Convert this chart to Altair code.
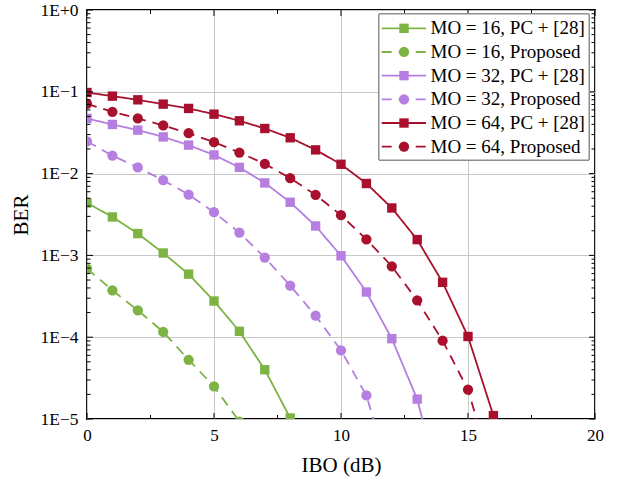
import altair as alt
import pandas as pd

# ---------------- data ----------------
series_names = ["MO = 16, PC + [28]", "MO = 16, Proposed",
                "MO = 32, PC + [28]", "MO = 32, Proposed",
                "MO = 64, PC + [28]", "MO = 64, Proposed"]
series_types = ["PC", "Proposed", "PC", "Proposed", "PC", "Proposed"]
series_colors = ["#7cb342", "#7cb342", "#b57ee0", "#b57ee0", "#a8102e", "#a8102e"]

pc16_x = [0, 1, 2, 3, 4, 5, 6, 7, 8]
pc16_y = [4.38e-3, 2.95e-3, 1.85e-3, 1.07e-3, 5.9e-4, 2.77e-4, 1.18e-4, 4.0e-5, 1.03e-5]

pr16_x = [0, 1, 2, 3, 4, 5, 6]
pr16_y = [6.9e-4, 3.74e-4, 2.13e-4, 1.16e-4, 5.3e-5, 2.5e-5, 9.3e-6]

pc32_x = [0, 1, 2, 3, 4, 5, 6, 7, 8, 9, 10, 11, 12, 13, 14]
pc32_y = [0.0472, 0.0399, 0.034, 0.0281, 0.0223, 0.0169, 0.0119, 0.00769, 0.00447,
          0.00229, 9.9e-4, 3.57e-4, 9.6e-5, 1.75e-5, 1.1e-6]

pr32_x = [0, 1, 2, 3, 4, 5, 6, 7, 8, 9, 10, 11, 12]
pr32_y = [0.0247, 0.0166, 0.0119, 0.0083, 0.00555, 0.00337, 0.0019, 9.4e-4, 4.27e-4,
          1.83e-4, 6.9e-5, 1.94e-5, 1.7e-6]

pc64_x = [0, 1, 2, 3, 4, 5, 6, 7, 8, 9, 10, 11, 12, 13, 14, 15, 16]
pc64_y = [0.098, 0.0885, 0.0798, 0.0707, 0.0626, 0.0533, 0.0442, 0.0356, 0.0274,
          0.0195, 0.0130, 0.00757, 0.0038, 0.00156, 4.69e-4, 1.02e-4, 1.1e-5]

pr64_x = [0, 1, 2, 3, 4, 5, 6, 7, 8, 9, 10, 11, 12, 13, 14, 15, 16]
pr64_y = [0.0713, 0.0569, 0.0472, 0.0388, 0.0312, 0.0242, 0.0181, 0.01315, 0.00879,
          0.0055, 0.0031, 0.00157, 7.36e-4, 2.82e-4, 9.06e-5, 2.28e-5, 2.0e-6]

x_major = [0, 5, 10, 15, 20]
x_minor = [2.5, 7.5, 12.5, 17.5]
y_major = [1e-5, 1e-4, 1e-3, 1e-2, 1e-1, 1]
y_minor = [k * 10.0 ** d for d in range(-5, 0) for k in range(2, 10)]

# ---------------- build table ----------------
all_x = [pc16_x, pr16_x, pc32_x, pr32_x, pc64_x, pr64_x]
all_y = [pc16_y, pr16_y, pc32_y, pr32_y, pc64_y, pr64_y]
rows = []
for name, typ, xs, ys in zip(series_names, series_types, all_x, all_y):
    for xv, yv in zip(xs, ys):
        rows.append({"series": name, "type": typ, "ibo": xv, "ber": yv})
df = pd.DataFrame(rows)

W, H = 508, 409
FONT = "Liberation Serif"

xscale = alt.Scale(domain=[0, 20], nice=False, zero=False)
yscale = alt.Scale(type="log", domain=[1e-5, 1], nice=False)
color_enc = alt.Color("series:N", scale=alt.Scale(domain=series_names, range=series_colors), legend=None)
dash_enc = alt.StrokeDash("type:N", scale=alt.Scale(domain=["PC", "Proposed"], range=[[1, 0], [10, 7]]), legend=None)
shape_enc = alt.Shape("type:N", scale=alt.Scale(domain=["PC", "Proposed"], range=["square", "circle"]), legend=None)
size_enc = alt.Size("type:N", scale=alt.Scale(domain=["PC", "Proposed"], range=[88, 105]), legend=None)

x_axis = alt.Axis(values=x_major, grid=True, gridColor="#c8c8c8", gridWidth=1, ticks=False, domain=False,
                  labelFont=FONT, labelFontSize=17, labelColor="black", labelPadding=8,
                  title="IBO (dB)", titleFont=FONT, titleFontSize=21, titleFontWeight="normal",
                  titleColor="black", titlePadding=11, labelFlush=False)
y_axis = alt.Axis(values=y_major, grid=True, gridColor="#c8c8c8", gridWidth=1, ticks=False, domain=False,
                  labelFont=FONT, labelFontSize=17.5, labelColor="black", labelPadding=9,
                  labelExpr="datum.value >= 1 ? '1E+0' : '1E\u2212' + format(-log(datum.value)/LN10, '.0f')",
                  title="BER", titleFont=FONT, titleFontSize=21, titleFontWeight="normal",
                  titleColor="black", titlePadding=8, labelFlush=False)

base = alt.Chart(df)
lines = base.mark_line(strokeWidth=1.8, clip=True).encode(
    x=alt.X("ibo:Q", scale=xscale, axis=x_axis),
    y=alt.Y("ber:Q", scale=yscale, axis=y_axis),
    color=color_enc, strokeDash=dash_enc, detail="series:N",
)
points = base.mark_point(filled=True, opacity=1, clip=True).encode(
    x=alt.X("ibo:Q", scale=xscale),
    y=alt.Y("ber:Q", scale=yscale),
    color=color_enc, shape=shape_enc, size=size_enc,
)

# tick marks (inward) on all four sides
def xticks(vals, length):
    d = pd.DataFrame({"v": vals})
    bot = alt.Chart(d).mark_rule(color="black", strokeWidth=1).encode(
        x=alt.X("v:Q", scale=xscale), y=alt.value(H), y2=alt.value(H - length))
    top = alt.Chart(d).mark_rule(color="black", strokeWidth=1).encode(
        x=alt.X("v:Q", scale=xscale), y=alt.value(0), y2=alt.value(length))
    return [bot, top]

def yticks(vals, length):
    d = pd.DataFrame({"v": vals})
    left = alt.Chart(d).mark_rule(color="black", strokeWidth=1).encode(
        y=alt.Y("v:Q", scale=yscale), x=alt.value(0), x2=alt.value(length))
    right = alt.Chart(d).mark_rule(color="black", strokeWidth=1).encode(
        y=alt.Y("v:Q", scale=yscale), x=alt.value(W), x2=alt.value(W - length))
    return [left, right]

tick_layers = xticks(x_major, 6) + xticks(x_minor, 4) + yticks(y_major, 6) + yticks(y_minor, 3.5)

main = alt.layer(lines, points, *tick_layers)

# ---------------- legend ----------------
leg_df = pd.DataFrame({"series": series_names, "type": series_types})
leg_y = alt.Y("series:N", scale=alt.Scale(domain=series_names, range=[18.3, 136.7], type="point", padding=0), axis=None)
leg_box = alt.Chart(leg_df).mark_rect(fill="white", stroke="#8c8c8c", strokeWidth=1).encode(
    x=alt.value(292), x2=alt.value(502), y=alt.value(4), y2=alt.value(150))
leg_line = alt.Chart(leg_df).mark_rule(strokeWidth=1.8).encode(
    x=alt.value(294.7), x2=alt.value(339), y=leg_y, color=color_enc, strokeDash=dash_enc)
leg_pt = alt.Chart(leg_df).mark_point(filled=True, opacity=1).encode(
    x=alt.value(317), y=leg_y, color=color_enc, shape=shape_enc, size=size_enc)
leg_txt = alt.Chart(leg_df).mark_text(font=FONT, fontSize=19, align="left", baseline="middle", color="black").encode(
    x=alt.value(343.5), y=leg_y, text="series:N")
legend = alt.layer(leg_box, leg_line, leg_pt, leg_txt)

chart = alt.layer(main, legend).resolve_scale(y="independent").properties(
    width=W, height=H,
    autosize=alt.AutoSizeParams(type="none"),
    padding={"left": 87, "top": 10, "right": 24, "bottom": 64},
    background="white",
).configure_view(stroke="black", strokeWidth=1.8)

chart.save("out.html", embed_options={"renderer": "svg", "actions": False})
